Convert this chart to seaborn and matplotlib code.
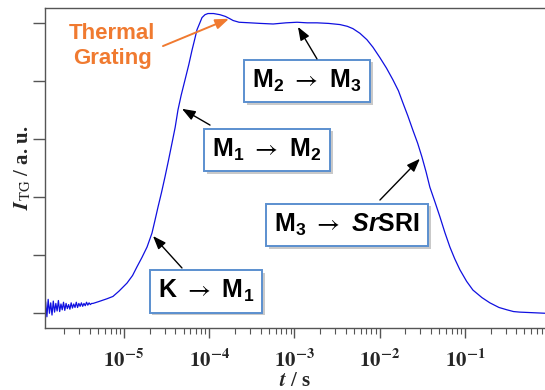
import numpy as np
import seaborn as sns
import matplotlib.pyplot as plt
import matplotlib.patheffects as pe
from matplotlib.ticker import LogLocator, NullFormatter

# log10 of time (s) and TG signal (a.u.)
log_t = [-5.920, -5.905, -5.890, -5.875, -5.860, -5.845, -5.830, -5.815, -5.800, -5.785,
         -5.770, -5.755, -5.740, -5.725, -5.710, -5.695, -5.680, -5.665, -5.650, -5.635,
         -5.620, -5.605, -5.590, -5.575, -5.560, -5.545, -5.530, -5.515, -5.500, -5.485,
         -5.470, -5.455, -5.440, -5.425, -5.410, -5.395, -5.380,
         -5.364, -5.30, -5.20, -5.13, -5.06, -4.965, -4.90, -4.848, -4.79, -4.730,
         -4.672, -4.64, -4.601, -4.56, -4.519, -4.48, -4.437, -4.40, -4.367, -4.33,
         -4.284, -4.24, -4.202, -4.17, -4.144, -4.11, -4.085, -4.05, -4.015, -3.95,
         -3.874, -3.81, -3.757, -3.72, -3.65, -3.52, -3.40, -3.25, -3.10, -2.97,
         -2.85, -2.736, -2.60, -2.466, -2.38, -2.314, -2.232, -2.150, -2.079, -1.997,
         -1.92, -1.845, -1.78, -1.727, -1.67, -1.610, -1.555, -1.504, -1.455, -1.411,
         -1.35, -1.293, -1.235, -1.176, -1.12, -1.059, -0.98, -0.906, -0.80, -0.707,
         -0.60, -0.507, -0.43, -0.355, -0.20, -0.05]
signal = [0.20, -0.06, 0.24, 0.00, 0.18, -0.03, 0.21, 0.02, 0.17, 0.04,
          0.22, 0.03, 0.16, 0.06, 0.19, 0.05, 0.17, 0.08, 0.15, 0.07,
          0.18, 0.09, 0.16, 0.10, 0.19, 0.10, 0.17, 0.12, 0.18, 0.12,
          0.17, 0.13, 0.19, 0.14, 0.18, 0.15, 0.17,
          0.17, 0.20, 0.25, 0.29, 0.38, 0.52, 0.65, 0.80, 0.96, 1.14,
          1.38, 1.58, 1.83, 2.08, 2.35, 2.62, 2.93, 3.20, 3.50, 3.75,
          4.02, 4.28, 4.53, 4.72, 4.88, 5.00, 5.09, 5.14, 5.16, 5.16,
          5.14, 5.11, 5.07, 5.04, 5.01, 5.00, 4.99, 4.98, 5.00, 5.01,
          5.00, 5.00, 4.99, 4.97, 4.94, 4.90, 4.82, 4.71, 4.58, 4.40,
          4.22, 4.02, 3.83, 3.62, 3.40, 3.15, 2.93, 2.69, 2.43, 2.17,
          1.91, 1.66, 1.39, 1.14, 0.94, 0.75, 0.55, 0.40, 0.27, 0.18,
          0.10, 0.06, 0.03, 0.02, 0.01, 0.00]

decade_exps = [-5, -4, -3, -2, -1]
tick_labels = [r"$\mathbf{10^{%d}}$" % e for e in decade_exps]

# transitions: label, box centre (log t, y), arrow start, arrow tip
labels = [r"K $\mathsf{\rightarrow}$ M$_{1}$",
          r"M$_{1}$ $\mathsf{\rightarrow}$ M$_{2}$",
          r"M$_{2}$ $\mathsf{\rightarrow}$ M$_{3}$",
          r"M$_{3}$ $\mathsf{\rightarrow}$ $\mathit{Sr}$SRI"]
box_pos = [(-4.038, 0.38), (-3.323, 2.81), (-2.853, 4.00), (-2.384, 1.52)]
arrow_from = [(-4.320, 0.78), (-3.991, 3.24), (-2.736, 4.38), (-1.997, 1.95)]
arrow_to = [(-4.660, 1.33), (-4.320, 3.52), (-2.959, 4.93), (-1.528, 2.66)]

sns.set_style("ticks")
plt.rcParams["font.family"] = ["Liberation Sans", "DejaVu Sans"]
plt.rcParams["mathtext.fontset"] = "custom"
plt.rcParams["mathtext.rm"] = "Liberation Sans:bold"
plt.rcParams["mathtext.bf"] = "Liberation Sans:bold"
plt.rcParams["mathtext.it"] = "Liberation Sans:italic:bold"
plt.rcParams["mathtext.sf"] = "STIXGeneral"

fig = plt.figure(figsize=(5.45, 3.9), dpi=100)
ax = fig.add_axes([0.0826, 0.159, 0.919, 0.8197])

t = 10 ** np.array(log_t)
sns.lineplot(x=t, y=signal, ax=ax, color="#1010e0", linewidth=0.9)

ax.set_xscale("log")
ax.set_xlim(10 ** -5.927, 10 ** -0.05)
ax.set_ylim(-0.253, 5.25)

ax.set_xticks([10.0 ** e for e in decade_exps], tick_labels)
ax.xaxis.set_minor_locator(LogLocator(base=10, subs=np.arange(2, 10), numticks=20))
ax.xaxis.set_minor_formatter(NullFormatter())
ax.set_yticks([0, 1, 2, 3, 4, 5])
ax.set_yticklabels([])
for lab in ax.get_xticklabels():
    lab.set_math_fontfamily("stix")
    lab.set_fontsize(15)

spine_col = "#555555"
for s in ax.spines.values():
    s.set_color(spine_col)
    s.set_linewidth(1.0)
ax.tick_params(axis="x", which="major", direction="out", length=7, width=1,
               color=spine_col, pad=8)
ax.tick_params(axis="x", which="minor", direction="out", length=4, width=0.8,
               color=spine_col)
ax.tick_params(axis="y", which="major", direction="out", length=9, width=1,
               color=spine_col)

ax.set_ylabel(r"$\mathbfit{I}_{\mathrm{TG}}$ / a. u.", family="Liberation Serif",
              fontweight="bold", fontsize=15, math_fontfamily="stix", labelpad=-4)
ax.set_xlabel(r"$\mathbfit{t}$ / s", family="Liberation Serif", fontweight="bold",
              fontsize=15, math_fontfamily="stix", labelpad=0)

shadow = [pe.withSimplePatchShadow(offset=(2, -2), shadow_rgbFace="#888888", alpha=0.45)]
for lab, (bx, by), (fx, fy), (tx, ty) in zip(labels, box_pos, arrow_from, arrow_to):
    txt = ax.text(10 ** bx, by, lab, fontsize=18, fontweight="bold", ha="center",
                  va="center", color="black",
                  bbox=dict(boxstyle="square,pad=0.33", fc="white", ec="#5b8fcf", lw=1.4))
    txt.get_bbox_patch().set_path_effects(shadow)
    ax.annotate("", xy=(10 ** tx, ty), xytext=(10 ** fx, fy),
                arrowprops=dict(arrowstyle="-|>,head_length=0.8,head_width=0.3",
                                color="black", lw=1.0, mutation_scale=10,
                                shrinkA=0, shrinkB=0))

orange = "#f07a30"
ax.text(10 ** -5.141, 4.60, "Thermal\nGrating", fontsize=16, fontweight="bold",
        color=orange, ha="center", va="center", linespacing=1.25)
ax.annotate("", xy=(10 ** -3.768, 5.07), xytext=(10 ** -4.543, 4.60),
            arrowprops=dict(arrowstyle="-|>,head_length=0.8,head_width=0.3",
                            color=orange, lw=1.4, mutation_scale=10,
                            shrinkA=0, shrinkB=0))

fig.savefig("out.png", dpi=100)
